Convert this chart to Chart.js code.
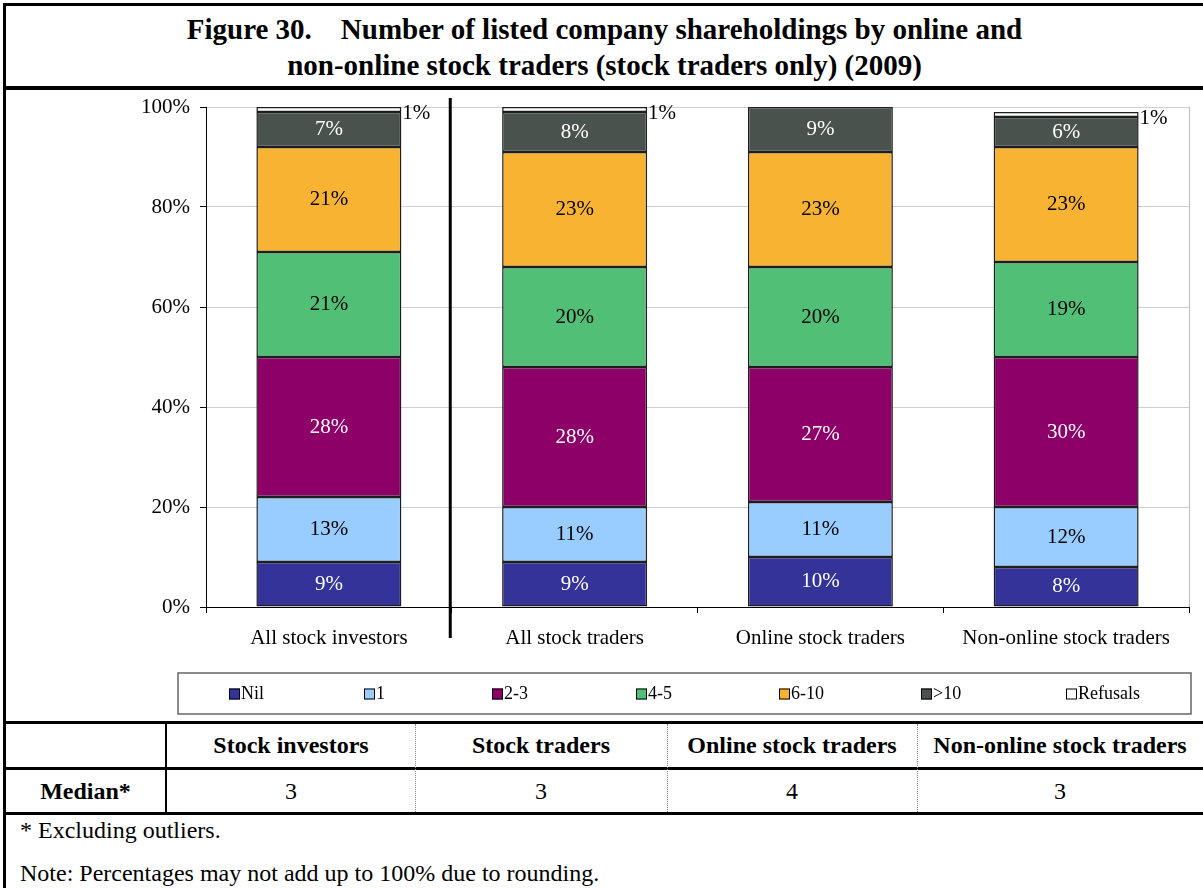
<!DOCTYPE html>
<html>
<head>
<meta charset="utf-8">
<script src="https://cdn.jsdelivr.net/npm/chart.js@4.4.1/dist/chart.umd.min.js"></script>
<style>
  html, body { margin: 0; padding: 0; background: #fff; }
  body { width: 1203px; height: 888px; position: relative; overflow: hidden;
         font-family: "Liberation Serif", "Times New Roman", serif; color: #000; }
  .rule { position: absolute; background: #000; }
  #title { position: absolute; left: 6px; right: 0; top: 11px; text-align: center;
           font-weight: bold; font-size: 29px; line-height: 36px; white-space: pre; }
  #chartWrap { position: absolute; left: 0; top: 90px; width: 1203px; height: 630px; }
  .cell { position: absolute; display: flex; align-items: center; justify-content: center;
          font-size: 24px; }
  .bold { font-weight: bold; }
  .dots { position: absolute; width: 0; border-left: 1px dotted #888; }
  .note { position: absolute; left: 20px; font-size: 24px; line-height: 28px; }
</style>
</head>
<body>
<div class="rule" style="left:3px;top:3px;width:1200px;height:3px;"></div>
<div class="rule" style="left:3px;top:3px;width:3px;height:885px;"></div>
<div class="rule" style="left:3px;top:86px;width:1200px;height:4px;"></div>
<div id="title">Figure 30.    Number of listed company shareholdings by online and
non-online stock traders (stock traders only) (2009)</div>

<div id="chartWrap"><canvas id="chart" width="1203" height="630"></canvas></div>

<div class="rule" style="left:3px;top:721px;width:1200px;height:3px;"></div>
<div class="rule" style="left:3px;top:767px;width:1200px;height:3px;"></div>
<div class="rule" style="left:3px;top:812px;width:1200px;height:3px;"></div>
<div class="rule" style="left:165px;top:722px;width:2px;height:92px;"></div>
<div id="table"></div>

<div class="note" style="top:816px;">* Excluding outliers.</div>
<div class="note" style="top:859px;">Note: Percentages may not add up to 100% due to rounding.</div>

<script>
// Survey groups shown as bars
const categories = ['All stock investors', 'All stock traders', 'Online stock traders', 'Non-online stock traders'];
// Number of shareholdings held (legend entries)
const seriesNames = ['Nil', '1', '2-3', '4-5', '6-10', '>10', 'Refusals'];
// Share of respondents (%) per group
const nilShare      = [9, 9, 10, 8];
const oneShare      = [13, 11, 11, 12];
const twoThreeShare = [28, 28, 27, 30];
const fourFiveShare = [21, 20, 20, 19];
const sixTenShare   = [21, 23, 23, 23];
const overTenShare  = [7, 8, 9, 6];
const refusalShare  = [1, 1, 0, 1];
const yTicks = [0, 20, 40, 60, 80, 100];
// Median table below the chart
const medianGroups = ['Stock investors', 'Stock traders', 'Online stock traders', 'Non-online stock traders'];
const medianValues = [3, 3, 4, 3];

const seriesValues = [nilShare, oneShare, twoThreeShare, fourFiveShare, sixTenShare, overTenShare, refusalShare];
const fillColors  = ['#333399', '#99CCFF', '#8C0068', '#52BF77', '#F9B332', '#4A524E', '#FFFFFF'];
const labelColors = ['#FFFFFF', '#000000', '#FFFFFF', '#000000', '#000000', '#FFFFFF', '#000000'];
const legendX = [229, 364, 492, 636, 779, 921, 1066];

const SERIF = '"Liberation Serif", "Times New Roman", serif';

// Median table
(function buildTable() {
  const t = document.getElementById('table');
  const cols = [[6, 165], [167, 415], [415, 667], [667, 917], [917, 1203]];
  const add = (x0, x1, y0, y1, text, bold) => {
    const d = document.createElement('div');
    d.className = 'cell' + (bold ? ' bold' : '');
    d.style.left = x0 + 'px'; d.style.width = (x1 - x0) + 'px';
    d.style.top = y0 + 'px'; d.style.height = (y1 - y0) + 'px';
    d.textContent = text;
    t.appendChild(d);
  };
  medianGroups.forEach((g, i) => add(cols[i + 1][0], cols[i + 1][1], 724, 767, g, true));
  add(cols[0][0], cols[0][1], 770, 812, 'Median*', true);
  medianValues.forEach((v, i) => add(cols[i + 1][0], cols[i + 1][1], 770, 812, String(v), false));
  [415, 667, 917].forEach(x => {
    const d = document.createElement('div');
    d.className = 'dots';
    d.style.left = x + 'px'; d.style.top = '724px'; d.style.height = '88px';
    t.appendChild(d);
  });
})();

// Value labels inside each segment; refusals sit beside the top of the bar
const segmentLabels = {
  id: 'segmentLabels',
  afterDatasetsDraw(chart) {
    const ctx = chart.ctx;
    ctx.save();
    ctx.font = '21px ' + SERIF;
    ctx.textBaseline = 'middle';
    chart.data.datasets.forEach((ds, di) => {
      const meta = chart.getDatasetMeta(di);
      meta.data.forEach((bar, i) => {
        const v = ds.data[i];
        if (!v) return;
        const p = bar.getProps(['x', 'y', 'base', 'width'], true);
        if (di === chart.data.datasets.length - 1) {
          ctx.fillStyle = '#000';
          ctx.textAlign = 'left';
          ctx.fillText(v + '%', p.x + p.width / 2 + 1, p.y + 6);
        } else {
          ctx.fillStyle = labelColors[di];
          ctx.textAlign = 'center';
          ctx.fillText(v + '%', p.x, (p.y + p.base) / 2);
        }
      });
    });
    ctx.restore();
  }
};

// Plot frame, group separator and boxed legend
const decorations = {
  id: 'decorations',
  afterDraw(chart) {
    const ctx = chart.ctx;
    const a = chart.chartArea;
    const xs = chart.scales.x;
    ctx.save();
    ctx.strokeStyle = '#bdbdbd';
    ctx.lineWidth = 1;
    ctx.beginPath();
    ctx.moveTo(Math.round(a.right) + 0.5, a.top);
    ctx.lineTo(Math.round(a.right) + 0.5, a.bottom);
    ctx.stroke();

    const sepX = xs.getPixelForValue(0.5) - 1.5;
    ctx.strokeStyle = '#000';
    ctx.lineWidth = 3;
    ctx.beginPath();
    ctx.moveTo(sepX, a.top - 9);
    ctx.lineTo(sepX, a.bottom + 31);
    ctx.stroke();

    const bx = 178, by = 583, bw = 1013, bh = 41;
    ctx.strokeStyle = '#666';
    ctx.lineWidth = 1.5;
    ctx.strokeRect(bx, by, bw, bh);
    ctx.font = '18px ' + SERIF;
    ctx.textBaseline = 'middle';
    ctx.textAlign = 'left';
    const cy = by + bh / 2;
    chart.data.datasets.forEach((ds, i) => {
      const x = legendX[i];
      ctx.fillStyle = ds.backgroundColor;
      ctx.fillRect(x, cy - 5, 11, 11);
      ctx.strokeStyle = '#000';
      ctx.lineWidth = 1;
      ctx.strokeRect(x + 0.5, cy - 4.5, 10, 10);
      ctx.fillStyle = '#000';
      ctx.fillText(ds.label, x + 12, cy + 1);
    });
    ctx.restore();
  }
};

new Chart(document.getElementById('chart'), {
  type: 'bar',
  data: {
    labels: categories,
    datasets: seriesNames.map((name, i) => ({
      label: name,
      data: seriesValues[i],
      backgroundColor: fillColors[i],
      borderColor: '#1e1e1e',
      borderWidth: 1.5,
      borderSkipped: false,
      barPercentage: 0.59,
      categoryPercentage: 1.0
    }))
  },
  options: {
    responsive: false,
    animation: false,
    layout: { padding: { left: 0, right: 14, top: 17, bottom: 0 } },
    plugins: { legend: { display: false }, tooltip: { enabled: false } },
    scales: {
      x: {
        stacked: true,
        offset: true,
        afterFit(scale) { scale.height = 113; scale.paddingLeft = 0; scale.paddingRight = 0; },
        grid: { offset: true, drawOnChartArea: false, drawTicks: true, tickLength: 6, tickColor: '#000' },
        border: { display: true, color: '#000', width: 1 },
        ticks: { color: '#000', font: { family: SERIF, size: 21 }, padding: 13, maxRotation: 0, autoSkip: false }
      },
      y: {
        stacked: true,
        min: 0,
        max: 100,
        afterFit(scale) { scale.width = 206; scale.paddingTop = 0; scale.paddingBottom = 0; },
        afterBuildTicks(scale) { scale.ticks = yTicks.map(v => ({ value: v })); },
        grid: { color: '#cfcfcf', lineWidth: 1, tickColor: '#000', tickLength: 6 },
        border: { display: true, color: '#000', width: 1 },
        ticks: { color: '#000', font: { family: SERIF, size: 21 }, padding: 10,
                 callback: v => v + '%' }
      }
    }
  },
  plugins: [segmentLabels, decorations]
});
</script>
</body>
</html>
